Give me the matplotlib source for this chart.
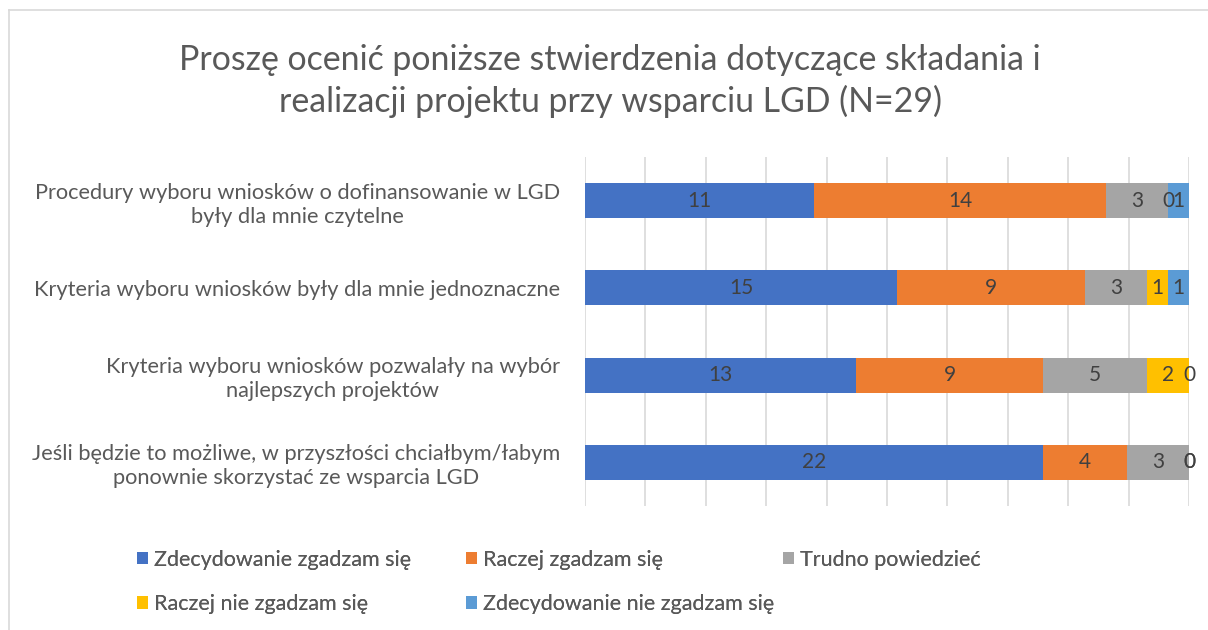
import numpy as np
import matplotlib.pyplot as plt
from matplotlib.lines import Line2D

plt.rcParams['font.family'] = ['Lato', 'DejaVu Sans']

# dane z wykresu (N=29)
categories = [
    'Procedury wyboru wniosków o dofinansowanie w LGD\nbyły dla mnie czytelne',
    'Kryteria wyboru wniosków były dla mnie jednoznaczne',
    'Kryteria wyboru wniosków pozwalały na wybór\nnajlepszych projektów',
    'Jeśli będzie to możliwe, w przyszłości chciałbym/łabym\nponownie skorzystać ze wsparcia LGD',
]
series_names = [
    'Zdecydowanie zgadzam się',
    'Raczej zgadzam się',
    'Trudno powiedzieć',
    'Raczej nie zgadzam się',
    'Zdecydowanie nie zgadzam się',
]
zdecydowanie_tak = [11, 15, 13, 22]
raczej_tak = [14, 9, 9, 4]
trudno = [3, 3, 5, 3]
raczej_nie = [0, 1, 2, 0]
zdecydowanie_nie = [1, 1, 0, 0]
colors = ['#4472C4', '#ED7D31', '#A5A5A5', '#FFC000', '#5B9BD5']

values = np.array([zdecydowanie_tak, raczej_tak, trudno, raczej_nie, zdecydowanie_nie], dtype=float)
totals = values.sum(axis=0)
shares = values / totals  # wykres 100% skumulowany

text_col = '#595959'

fig = plt.figure(figsize=(12.08, 6.30), dpi=100)
ax = fig.add_axes([585 / 1208, 1 - 506 / 630, 604 / 1208, 349 / 630])

y = np.arange(len(categories))
left = np.zeros(len(categories))
containers = []
for i in range(len(series_names)):
    bars = ax.barh(y, shares[i], left=left, height=0.4, color=colors[i],
                   label=series_names[i], zorder=2)
    ax.bar_label(bars, labels=[str(int(v)) for v in values[i]], label_type='center',
                 color='#404040', fontsize=15)
    containers.append(bars)
    left += shares[i]

ax.set_xlim(0, 1)
ax.set_ylim(len(categories) - 0.5, -0.5)
ax.set_xticks(np.arange(0, 1.01, 0.1))
ax.set_xticklabels([])
ax.tick_params(axis='x', length=0)
ax.grid(axis='x', color='#d9d9d9', linewidth=1.2, zorder=0)
ax.set_yticks(y)
ax.set_yticklabels(categories, fontsize=15.7, color=text_col, linespacing=1.25)
ax.tick_params(axis='y', length=0, pad=18)
for lbl in ax.get_yticklabels():
    lbl.set_multialignment('center')
for s in ax.spines.values():
    s.set_visible(False)

fig.text(0.505, 1 - 81 / 630, 'Proszę ocenić poniższe stwierdzenia dotyczące składania i\n'
         'realizacji projektu przy wsparciu LGD (N=29)', ha='center', va='center',
         fontsize=24.4, color=text_col, linespacing=1.35)

# legenda w trzech kolumnach (kolejność jak w Excelu)
col_x = [128 / 1208, 457 / 1208, 774 / 1208]
col_items = [[0, 3], [1, 4], [2]]
for cx, items in zip(col_x, col_items):
    leg = fig.legend([containers[k] for k in items], [series_names[k] for k in items],
                     loc='upper left', bbox_to_anchor=(cx, 1 - 541 / 630), frameon=False,
                     fontsize=15.5, labelcolor=text_col, handlelength=0.55, handleheight=0.55,
                     handletextpad=0.25, labelspacing=1.15, borderaxespad=0)
    fig.add_artist(leg)

# ramka obszaru wykresu
fig.add_artist(Line2D([9 / 1208, 1], [1 - 10 / 630, 1 - 10 / 630], color='#d9d9d9', lw=1.2))
fig.add_artist(Line2D([9 / 1208, 9 / 1208], [0, 1 - 10 / 630], color='#d9d9d9', lw=1.2))

fig.savefig('out.png', dpi=100)
